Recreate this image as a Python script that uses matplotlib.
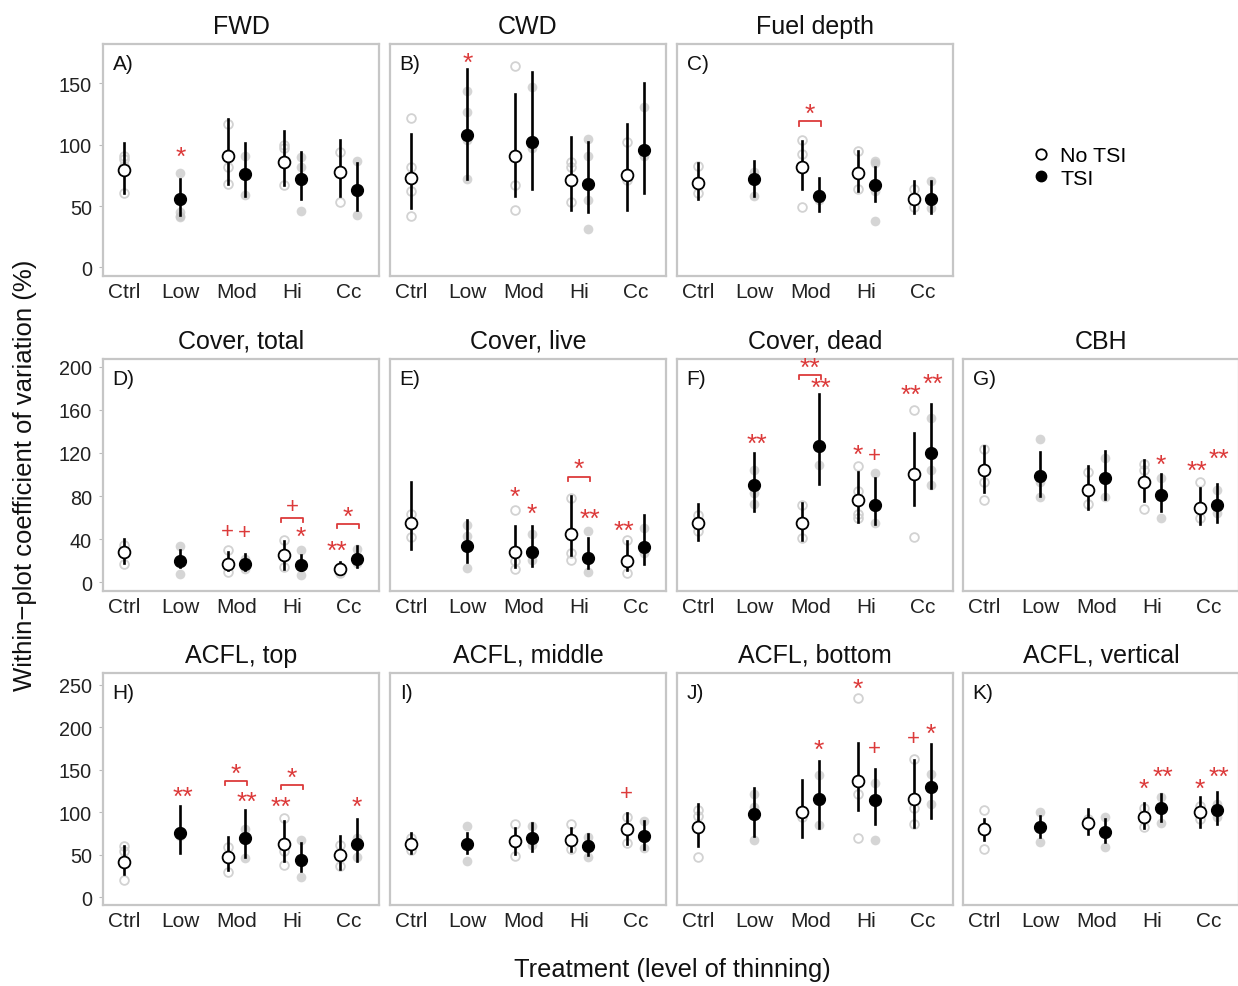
import matplotlib
matplotlib.use("Agg")
import matplotlib.pyplot as plt
from matplotlib.transforms import offset_copy

plt.rcParams['font.family'] = ['Liberation Sans', 'DejaVu Sans']

treatments = ["Ctrl", "Low", "Mod", "Hi", "Cc"]

# each entry: (mean, lower, upper, individual plots) or None when the group is absent
fwd_no = [(79, 61, 101, [61, 83, 88, 91]), None, (91, 68, 121, [68, 82, 92, 117]),
          (86, 67, 111, [67, 97, 100]), (78, 58, 104, [53, 78, 94])]
fwd_tsi = [None, (56, 43, 72, [41, 42, 45, 77]), (76, 58, 101, [59, 76, 91]),
           (72, 56, 94, [46, 82, 90]), (63, 47, 85, [43, 63, 87])]

cwd_no = [(73, 48, 109, [42, 62, 82, 122]), None, (91, 58, 141, [47, 67, 164]),
          (71, 47, 106, [53, 82, 86]), (75, 47, 117, [71, 102])]
cwd_tsi = [None, (108, 72, 162, [72, 104, 127, 144]), (102, 64, 159, [97, 147]),
           (68, 45, 102, [31, 55, 91, 105]), (96, 61, 150, [91, 131])]

depth_no = [(69, 56, 85, [61, 83]), None, (82, 64, 103, [49, 92, 104]),
            (77, 62, 95, [64, 95]), (56, 44, 70, [49, 64])]
depth_tsi = [None, (72, 58, 87, [58, 71, 78]), (58, 46, 73, [55, 60]),
             (67, 54, 82, [38, 62, 85, 87]), (56, 44, 70, [48, 56, 70])]

ctot_no = [(28, 18, 40, [17, 35]), None, (17, 11, 28, [10, 30]),
           (25, 12, 38, [14, 39]), (12, 8, 19, [9, 14])]
ctot_tsi = [None, (20, 14, 30, [8, 34]), (17, 11, 26, [12, 22]),
            (16, 11, 25, [7, 30]), (22, 14, 34, [18, 31])]

clive_no = [(55, 31, 93, [42, 63]), None, (28, 14, 52, [12, 20, 67]),
            (45, 25, 80, [21, 27, 78]), (20, 11, 38, [9, 39])]
clive_tsi = [None, (34, 19, 58, [13, 43, 53]), (28, 15, 52, [21, 30, 45]),
             (23, 13, 41, [10, 48]), (33, 17, 62, [27, 50])]

cdead_no = [(55, 39, 73, [48, 62]), None, (55, 39, 74, [41, 72]),
            (76, 56, 102, [60, 63, 85, 108]), (100, 72, 138, [42, 160])]
cdead_tsi = [None, (90, 66, 120, [73, 83, 104]), (126, 91, 175, [109, 126]),
             (72, 54, 97, [55, 101]), (120, 87, 165, [90, 104, 152])]

cbh_no = [(104, 84, 126, [76, 93, 124]), None, (86, 68, 108, [73, 102]),
          (93, 75, 113, [68, 104, 110]), (69, 54, 87, [60, 93])]
cbh_tsi = [None, (99, 80, 121, [79, 93, 133]), (97, 77, 122, [79, 115]),
           (81, 66, 100, [60, 97]), (72, 56, 91, [64, 86])]

top_no = [(42, 28, 61, [21, 55, 61]), None, (48, 32, 71, [30, 59]),
          (63, 43, 90, [38, 55, 93]), (50, 33, 72, [37, 62])]
top_tsi = [None, (76, 52, 108, [72, 78]), (70, 48, 103, [46, 80]),
           (44, 31, 64, [24, 68]), (63, 43, 92, [47, 70])]

mid_no = [(63, 52, 76, [56, 70]), None, (66, 51, 82, [49, 86]),
          (68, 55, 82, [57, 86]), (80, 63, 99, [64, 95])]
mid_tsi = [None, (63, 52, 76, [43, 84]), (70, 55, 88, [62, 84]),
           (61, 50, 74, [47, 71]), (72, 57, 90, [58, 90])]

bot_no = [(83, 61, 110, [47, 96, 103]), None, (100, 71, 138, [94, 102]),
          (137, 103, 182, [70, 122, 234]), (116, 83, 162, [86, 105, 163])]
bot_tsi = [None, (98, 72, 129, [68, 106, 122]), (116, 82, 160, [85, 144]),
           (115, 86, 151, [68, 135]), (130, 93, 180, [110, 145])]

vert_no = [(80, 68, 92, [57, 103]), None, (88, 74, 104, [85, 92]),
           (95, 82, 111, [83, 105]), (100, 83, 118, [92, 108])]
vert_tsi = [None, (83, 71, 96, [65, 100]), (77, 65, 92, [59, 95]),
            (105, 90, 122, [88, 118]), (103, 86, 124, [95, 110])]

titles = ["FWD", "CWD", "Fuel depth", "Cover, total", "Cover, live", "Cover, dead", "CBH",
          "ACFL, top", "ACFL, middle", "ACFL, bottom", "ACFL, vertical"]
letters = ["A)", "B)", "C)", "D)", "E)", "F)", "G)", "H)", "I)", "J)", "K)"]
no_groups = [fwd_no, cwd_no, depth_no, ctot_no, clive_no, cdead_no, cbh_no,
             top_no, mid_no, bot_no, vert_no]
tsi_groups = [fwd_tsi, cwd_tsi, depth_tsi, ctot_tsi, clive_tsi, cdead_tsi, cbh_tsi,
              top_tsi, mid_tsi, bot_tsi, vert_tsi]

# significance marks: (panel, treatment index, group, y, text); group 'pair' = bracket
marks = [
    (0, 1, 'tsi', 94, '*'),
    (1, 1, 'tsi', 171, '*'),
    (2, 2, 'pair', 119, '*'),
    (3, 2, 'no', 47, '+'), (3, 2, 'tsi', 46, '+'), (3, 3, 'pair', 60, '+'),
    (3, 3, 'tsi', 47, '*'), (3, 4, 'pair', 54, '*'), (3, 4, 'no', 34, '**'),
    (4, 2, 'no', 84, '*'), (4, 2, 'tsi', 68, '*'), (4, 3, 'pair', 98, '*'),
    (4, 3, 'tsi', 64, '**'), (4, 4, 'no', 53, '**'),
    (5, 1, 'tsi', 133, '**'), (5, 2, 'pair', 192, '**'), (5, 2, 'tsi', 185, '**'),
    (5, 3, 'no', 123, '*'), (5, 3, 'tsi', 118, '+'), (5, 4, 'no', 179, '**'),
    (5, 4, 'tsi', 189, '**'),
    (6, 3, 'tsi', 114, '*'), (6, 4, 'no', 108, '**'), (6, 4, 'tsi', 119, '**'),
    (7, 1, 'tsi', 124, '**'), (7, 2, 'pair', 137, '*'), (7, 2, 'tsi', 118, '**'),
    (7, 3, 'pair', 132, '*'), (7, 3, 'no', 113, '**'), (7, 4, 'tsi', 113, '*'),
    (8, 4, 'no', 122, '+'),
    (9, 2, 'tsi', 180, '*'), (9, 3, 'no', 251, '*'), (9, 3, 'tsi', 175, '+'),
    (9, 4, 'no', 187, '+'), (9, 4, 'tsi', 199, '*'),
    (10, 3, 'no', 134, '*'), (10, 3, 'tsi', 148, '**'),
    (10, 4, 'no', 134, '*'), (10, 4, 'tsi', 148, '**'),
]

row_ylims = [(-7, 182), (-8, 207), (-9, 264)]
row_yticks = [[0, 50, 100, 150], [0, 40, 80, 120, 160, 200], [0, 50, 100, 150, 200, 250]]

W, H = 1238, 987
fig = plt.figure(figsize=(W / 100, H / 100), dpi=100)

col_left = [103, 390, 677, 963]
row_top = [45, 360, 674]
pw, ph = 276, 232
red = '#dc3a3a'
dodge = 0.15

positions = [(0, 0), (0, 1), (0, 2), (1, 0), (1, 1), (1, 2), (1, 3),
             (2, 0), (2, 1), (2, 2), (2, 3)]
axes = []
xs_all = []
for p, (r, c) in enumerate(positions):
    ax = fig.add_axes([col_left[c] / W, 1 - (row_top[r] + ph) / H, pw / W, ph / H])
    axes.append(ax)
    no, tsi = no_groups[p], tsi_groups[p]
    xs = {}
    for i in range(5):
        both = no[i] is not None and tsi[i] is not None
        xs[(i, 'no')] = i + 1 - (dodge if both else 0)
        xs[(i, 'tsi')] = i + 1 + (dodge if both else 0)
    xs_all.append(xs)
    for i in range(5):
        if no[i] is not None:
            m, lo, hi, pts = no[i]
            x = xs[(i, 'no')]
            ax.plot([x] * len(pts), pts, 'o', ms=6.3, mfc='none', mec='#d2d2d2', mew=1.3, zorder=1)
            ax.plot([x, x], [lo, hi], color='black', lw=1.9, zorder=2)
            ax.plot(x, m, 'o', ms=8.5, mfc='white', mec='black', mew=1.3, zorder=3)
        if tsi[i] is not None:
            m, lo, hi, pts = tsi[i]
            x = xs[(i, 'tsi')]
            ax.plot([x] * len(pts), pts, 'o', ms=7, color='#c8c8c8', alpha=0.75, mew=0, zorder=1)
            ax.plot([x, x], [lo, hi], color='black', lw=1.9, zorder=2)
            ax.plot(x, m, 'o', ms=8.5, color='black', zorder=3)
    ax.set_xlim(0.62, 5.55)
    ax.set_ylim(*row_ylims[r])
    ax.set_yticks(row_yticks[r])
    ax.set_xticks(range(1, 6))
    ax.set_xticklabels(treatments, fontsize=15)
    ax.tick_params(axis='x', length=0, pad=4, colors='#222222')
    if c == 0:
        ax.tick_params(axis='y', length=3, color='#bbbbbb', labelsize=14.3,
                       labelcolor='#222222', pad=5)
    else:
        ax.tick_params(axis='y', length=0, labelleft=False)
    for s in ax.spines.values():
        s.set_color('#c6c6c6')
        s.set_linewidth(1.6)
    ax.set_title(titles[p], fontsize=18, pad=8, color='#111111')
    ax.text(0.035, 0.955, letters[p], transform=ax.transAxes, fontsize=15,
            va='top', ha='left', color='#111111')

for p, i, grp, y, txt in marks:
    ax = axes[p]
    xs = xs_all[p]
    y0, y1 = ax.get_ylim()
    tick = (y1 - y0) * 0.018
    fs = 19 if '*' in txt else 16
    # asterisks sit high in the glyph box, pull them down a little;
    # double stars get pushed a hair apart so neighbours don't collide
    dx = 0
    if txt == '**':
        dx = -2 if grp == 'no' else 2
    tr = offset_copy(ax.transData, fig=fig, x=dx, y=-0.2 * fs if '*' in txt else 0,
                     units='points')
    if grp == 'pair':
        xa, xb = xs[(i, 'no')] - 0.05, xs[(i, 'tsi')] + 0.05
        ax.plot([xa, xa, xb, xb], [y - tick, y, y, y - tick], color=red, lw=1.3)
        tr = offset_copy(ax.transData, fig=fig, y=-0.2 * fs if '*' in txt else 0,
                         units='points')
        ax.text((xa + xb) / 2, y + tick * 0.2, txt, color=red, fontsize=fs,
                ha='center', va='bottom', transform=tr)
    else:
        ax.text(xs[(i, grp)], y, txt, color=red, fontsize=fs, ha='center', va='center',
                transform=tr)

# legend in the empty top-right slot
fig.legend(handles=[plt.Line2D([], [], ls='none', marker='o', ms=7.5, mfc='white', mec='black', mew=1.3),
                    plt.Line2D([], [], ls='none', marker='o', ms=7.5, color='black')],
           labels=["No TSI", "TSI"], loc='center left', bbox_to_anchor=(1009 / W, 1 - 168 / H),
           frameon=False, fontsize=15.4, handletextpad=0.3, labelspacing=0.15, handlelength=1.2)

fig.text(25 / W, 1 - 475 / H, "Within\u2212plot coefficient of variation (%)", rotation=90,
         fontsize=18.5, ha='center', va='center', color='#111111')
fig.text(672 / W, 1 - 970 / H, "Treatment (level of thinning)", fontsize=18.3,
         ha='center', va='center', color='#111111')

fig.savefig("out.png", dpi=100)
